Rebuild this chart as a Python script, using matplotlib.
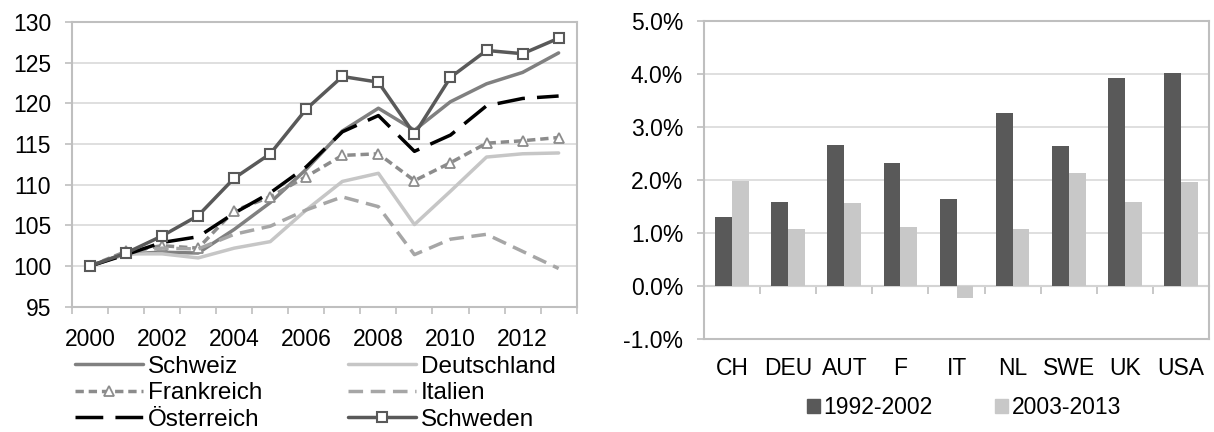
"""Two panels: index of selected countries 2000-2013 and average growth rates by period."""

import matplotlib

matplotlib.use("Agg")
import matplotlib.pyplot as plt
from matplotlib.patches import Patch
from matplotlib.ticker import FuncFormatter

plt.rcParams["font.family"] = ["Liberation Sans", "DejaVu Sans"]
plt.rcParams["font.size"] = 16.5

# --- left panel data (index, 2000 = 100) ---
years = list(range(2000, 2014))
schweiz = [100, 101.5, 101.7, 101.6, 104.5, 107.8, 111.9, 116.6, 119.4, 116.7, 120.2, 122.4, 123.8, 126.2]
deutschland = [100, 101.5, 101.5, 101.0, 102.2, 103.0, 106.9, 110.4, 111.4, 105.1, 109.2, 113.4, 113.8, 113.9]
frankreich = [100, 101.8, 102.5, 102.2, 106.8, 108.5, 111.0, 113.6, 113.8, 110.5, 112.7, 115.1, 115.4, 115.8]
italien = [100, 101.6, 102.2, 102.1, 103.9, 104.9, 106.9, 108.5, 107.3, 101.4, 103.3, 103.9, 101.8, 99.7]
oesterreich = [100, 101.4, 102.9, 103.6, 106.5, 109.0, 112.2, 116.5, 118.5, 114.1, 116.1, 119.7, 120.6, 120.9]
schweden = [100, 101.6, 103.7, 106.2, 110.8, 113.8, 119.3, 123.3, 122.6, 116.2, 123.2, 126.5, 126.1, 128.0]
year_labels = [str(y) if y % 2 == 0 else "" for y in years]

# --- right panel data (average annual growth, %) ---
countries = ["CH", "DEU", "AUT", "F", "IT", "NL", "SWE", "UK", "USA"]
growth_9202 = [1.30, 1.59, 2.67, 2.32, 1.64, 3.27, 2.64, 3.92, 4.03]
growth_0313 = [1.99, 1.08, 1.57, 1.11, -0.23, 1.08, 2.13, 1.59, 1.97]
periods = ["1992-2002", "2003-2013"]

GRID = "#d9d9d9"
AXIS = "#bfbfbf"
DARK = "#595959"
LIGHT = "#c8c8c8"

fig = plt.figure(figsize=(12.14, 4.32), dpi=100)

# ---------------- left panel ----------------
ax1 = fig.add_axes([0.0593, 0.2900, 0.4157, 0.6591])
x = list(range(len(years)))
lw = 2.5
styles = [
    ("Schweiz", schweiz, dict(color="#808080", lw=lw)),
    ("Deutschland", deutschland, dict(color="#c6c6c6", lw=lw)),
    ("Frankreich", frankreich, dict(color="#8c8c8c", lw=lw, dashes=(2.4, 1.4), marker="^",
                                    ms=7, mfc="white", mec="#8c8c8c", mew=1.3)),
    ("Italien", italien, dict(color="#a6a6a6", lw=lw, dashes=(4.2, 2.2))),
    ("Österreich", oesterreich, dict(color="black", lw=lw, dashes=(8, 3.5))),
    ("Schweden", schweden, dict(color=DARK, lw=lw, marker="s", ms=6.5, mfc="white",
                                mec=DARK, mew=1.5)),
]
lines = {}
for name, vals, kw in styles:
    (ln,) = ax1.plot(x, vals, label=name, solid_capstyle="round", dash_capstyle="butt", **kw)
    lines[name] = ln

ax1.set_xlim(-0.5, len(years) - 0.5)
ax1.set_ylim(95, 130)
ax1.set_yticks(range(95, 131, 5))
ax1.set_xticks(x)
ax1.set_xticklabels(year_labels)
ax1.set_xticks([i - 0.5 for i in range(len(years) + 1)], minor=True)
ax1.tick_params(axis="x", which="major", length=0, pad=15)
ax1.tick_params(axis="x", which="minor", length=5, width=1.2, color=AXIS)
ax1.tick_params(axis="y", length=5, width=1.2, color=AXIS, pad=10)
ax1.grid(axis="y", color=GRID, lw=1.2)
ax1.set_axisbelow(True)
for sp in ax1.spines.values():
    sp.set_color(AXIS)
    sp.set_linewidth(1.5)

order = ["Schweiz", "Frankreich", "Österreich", "Deutschland", "Italien", "Schweden"]
fig.legend([lines[n] for n in order], order, ncol=2, frameon=False, fontsize=17.5,
           loc="upper left", bbox_to_anchor=(0.062, 0.176), borderpad=0,
           handlelength=2.8, handletextpad=0.2, columnspacing=3.5,
           labelspacing=0.18, borderaxespad=0)

# ---------------- right panel ----------------
ax2 = fig.add_axes([0.5799, 0.2153, 0.4160, 0.7354])
xc = list(range(len(countries)))
w = 0.3
ax2.bar([i - w / 2 for i in xc], growth_9202, width=w, color=DARK, label=periods[0], zorder=3)
ax2.bar([i + w / 2 for i in xc], growth_0313, width=w, color=LIGHT, label=periods[1], zorder=3)
ax2.set_xlim(-0.5, len(countries) - 0.5)
ax2.set_ylim(-1, 5)
ax2.set_yticks(range(-1, 6))
ax2.yaxis.set_major_formatter(FuncFormatter(lambda v, _: f"{v:.1f}%"))
ax2.set_xticks(xc)
ax2.set_xticklabels(countries)
ax2.tick_params(axis="x", length=0, pad=13)
ax2.tick_params(axis="y", length=5, width=1.2, color=AXIS, pad=10)
ax2.grid(axis="y", color=GRID, lw=1.2)
ax2.set_axisbelow(True)
for sp in ax2.spines.values():
    sp.set_color(AXIS)
    sp.set_linewidth(1.5)

# category axis crossing at 0 %
zero = ax2.secondary_xaxis(1 / 6)
zero.set_xticks([i + 0.5 for i in xc[:-1]])
zero.tick_params(length=6, width=1.2, color=AXIS, labelbottom=False)
zero.spines["bottom"].set_color(AXIS)
zero.spines["bottom"].set_linewidth(1.5)

fig.legend([Patch(color=DARK), Patch(color=LIGHT)], periods, ncol=2, frameon=False,
           loc="center", bbox_to_anchor=(0.794, 0.056), borderpad=0,
           handlelength=0.55, handleheight=0.55, handletextpad=0.15, columnspacing=2.75)

fig.savefig("out.png", dpi=100)
